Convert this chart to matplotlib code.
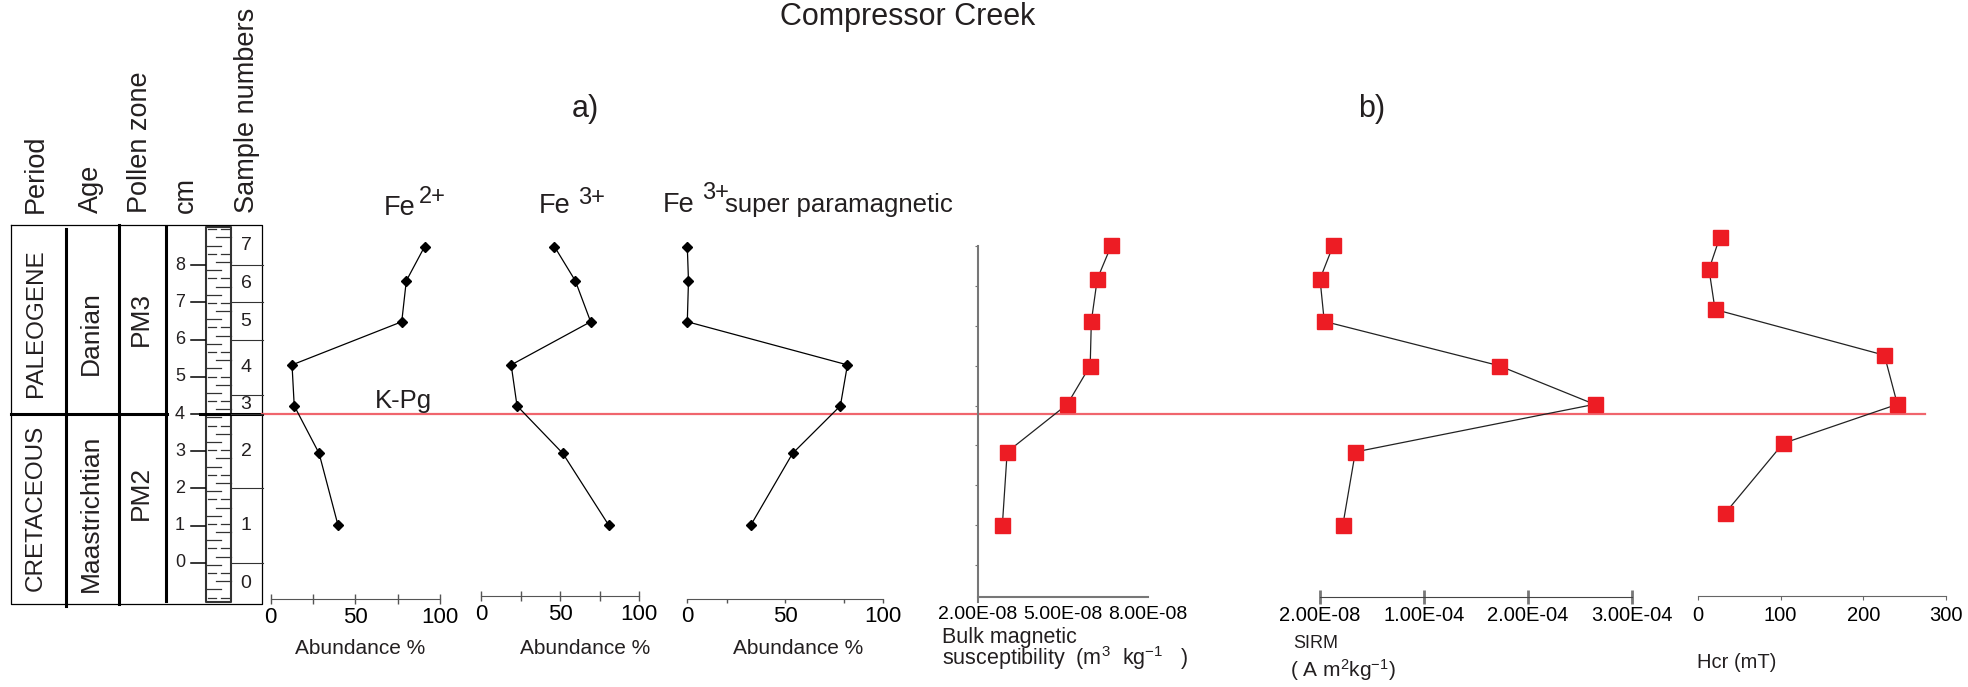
import numpy as np
import matplotlib
matplotlib.use('Agg')
import matplotlib.pyplot as plt

plt.rcParams['font.family'] = ['Liberation Sans', 'DejaVu Sans']
plt.rcParams['mathtext.default'] = 'regular'
plt.rcParams['text.color'] = '#231f20'

# sample depths (cm above base of section)
depth_fe = [8.50, 7.58, 6.48, 5.32, 4.22, 2.94, 1.02]
depth_mag = [8.54, 7.63, 6.49, 5.30, 4.26, 2.98, 1.02]
depth_hcr = [8.77, 7.89, 6.81, 5.58, 4.26, 3.21, 1.33]

# a) Mossbauer abundances (%)
fe2 = [90.9, 80.1, 77.4, 12.6, 13.9, 28.6, 39.7]
fe3 = [46.5, 59.7, 69.4, 19.1, 22.8, 51.8, 80.7]
fe3_sp = [0.0, 0.6, 0.0, 81.7, 78.1, 53.7, 32.5]

# b) rock magnetism
bulk_sus = [6.71e-8, 6.21e-8, 6.00e-8, 5.96e-8, 5.15e-8, 3.03e-8, 2.86e-8]
sirm = [1.28e-5, 0.0, 4.1e-6, 1.72e-4, 2.64e-4, 3.4e-5, 2.2e-5]
hcr = [26.7, 13.3, 20.6, 225.5, 241.2, 103.0, 32.7]

# stratigraphic column
cm_ticks = [0, 1, 2, 3, 4, 5, 6, 7, 8]
sample_edges = [8, 7, 6, 4.5, 4, 2, 0]
sample_names = ['7', '6', '5', '4', '3', '2', '1', '0']
headers = ['Period', 'Age', 'Pollen zone', 'cm', 'Sample numbers']

W, H = 1968, 687


def cm_of(ypx):
    # pixel row -> depth in cm (K-Pg = 4 cm)
    return 4 + (414 - ypx) / 37.2


fig = plt.figure(figsize=(W / 100, H / 100), dpi=100)

bg = fig.add_axes([0, 0, 1, 1])
bg.set_xlim(0, W)
bg.set_ylim(cm_of(H), cm_of(0))
bg.axis('off')

# ---- strat column ----
top, bot = cm_of(225), cm_of(604)
bg.plot([11, 262, 262, 11, 11], [top, top, bot, bot, top], color='k', lw=0.9)
bg.plot([66, 66], [cm_of(229), cm_of(606)], color='k', lw=2.2)
bg.plot([119, 119], [top, bot], color='k', lw=2.2)
bg.plot([166, 166], [cm_of(227), cm_of(601)], color='k', lw=2.2)
bg.plot([11, 167], [4, 4], color='k', lw=2.2)
bg.plot([200, 262], [4, 4], color='k', lw=2.2)
bg.plot([262, 1925], [4, 4], color='#f0656d', lw=1.6)

for c in cm_ticks:
    bg.plot([191, 205], [c, c], color='k', lw=1.1)
    bg.text(180, c, str(c), ha='center', va='center', fontsize=13)

# lithology strip (shale dashes)
lt, lb = cm_of(227), cm_of(602)
bg.fill_between([206, 231], lb, lt, facecolor='white', edgecolor='#333333', lw=1.5)
rows = np.arange(lb + 0.12, lt - 0.05, 0.22)
for i, r in enumerate(rows):
    if i % 3 == 0:
        bg.plot([208, 216], [r, r], color='#333333', lw=0.9)
        bg.plot([221, 229], [r, r], color='#333333', lw=0.9)
    elif i % 3 == 1:
        bg.plot([206, 221], [r, r], color='#333333', lw=0.9)
    else:
        bg.plot([216, 231], [r, r], color='#333333', lw=0.9)

# sample numbers
for e in sample_edges:
    bg.plot([231, 263], [e, e], color='#333333', lw=0.8)
bounds = [top] + sample_edges + [bot]
for name, a, b in zip(sample_names, bounds[:-1], bounds[1:]):
    bg.text(246, (a + b) / 2, name, ha='center', va='center', fontsize=14)

bg.text(36, 6.45, 'PALEOGENE', rotation=90, ha='center', va='center', fontsize=17.5)
bg.text(36, 1.47, 'CRETACEOUS', rotation=90, ha='center', va='center', fontsize=17.5)
bg.text(91, 6.18, 'Danian', rotation=90, ha='center', va='center', fontsize=19)
bg.text(91, 1.34, 'Maastrichtian', rotation=90, ha='center', va='center', fontsize=19)
bg.text(141, 6.55, 'PM3', rotation=90, ha='center', va='center', fontsize=19)
bg.text(141, 1.88, 'PM2', rotation=90, ha='center', va='center', fontsize=19)

for name, x in zip(headers, [36, 91, 140, 186, 247]):
    bg.text(x, cm_of(213), name, rotation=90, ha='center', va='bottom', fontsize=19.5)

# ---- titles ----
bg.text(908, cm_of(25), 'Compressor Creek', ha='center', va='baseline', fontsize=22)
bg.text(585, cm_of(117), 'a)', ha='center', va='baseline', fontsize=22)
bg.text(1372, cm_of(117), 'b)', ha='center', va='baseline', fontsize=22)
bg.text(375, cm_of(408), 'K-Pg', va='baseline', fontsize=18.5)

bg.text(384, cm_of(215), 'Fe', va='baseline', fontsize=19.5)
bg.text(419, cm_of(203), '2+', va='baseline', fontsize=17)
bg.text(539, cm_of(213), 'Fe', va='baseline', fontsize=19.5)
bg.text(578, cm_of(204), '3+', va='baseline', fontsize=17)
bg.text(663, cm_of(212), 'Fe', va='baseline', fontsize=19.5)
bg.text(702, cm_of(199), '3+', va='baseline', fontsize=17)
bg.text(725, cm_of(212), 'super paramagnetic', va='baseline', fontsize=18.5)


def panel(x0, x1, lim, spine_y=597):
    ax = fig.add_axes([x0 / W, 1 - 597 / H, (x1 - x0) / W, (597 - 225) / H])
    ax.set_xlim(lim)
    ax.set_ylim(cm_of(597), cm_of(225))
    ax.patch.set_visible(False)
    for s in ['top', 'right', 'left']:
        ax.spines[s].set_visible(False)
    ax.spines['bottom'].set_position(('data', cm_of(spine_y)))
    ax.set_yticks([])
    return ax


def fe_panel(x0, x1, vals, ticks, labels, spine_y, direction, length):
    ax = panel(x0, x1, (0, 100), spine_y)
    ax.plot(vals, depth_fe, color='k', lw=0.9, marker='D', ms=5.5, clip_on=False)
    ax.set_xticks(ticks, labels)
    ax.spines['bottom'].set_color('#555555')
    ax.tick_params(axis='x', direction=direction, length=length, width=1,
                   color='#555555', pad=2, labelsize=16)
    return ax


fe_panel(270.7, 440, fe2, [0, 25, 50, 75, 100], ['0', '', '50', '', '100'], 599, 'inout', 7)
fe_panel(481, 639, fe3, [0, 25, 50, 75, 100], ['0', '', '50', '', '100'], 596, 'inout', 7)
fe_panel(687.3, 883.3, fe3_sp, [0, 20, 50, 80, 100], ['0', '', '50', '', '100'], 599, 'out', 3)
for x in [360, 585, 798]:
    bg.text(x, cm_of(649), 'Abundance %', ha='center', va='center', fontsize=15)

sq = dict(color='#222222', lw=0.9, marker='s', ms=10.8, mfc='#ed1c24',
          mec='#ed1c24', clip_on=False)

# bulk susceptibility
ax = panel(978, 1148, (2e-8, 8e-8))
ax.plot(bulk_sus, depth_mag, **sq)
ax.spines['left'].set_visible(True)
ax.spines['left'].set_bounds(cm_of(602), cm_of(246))
ax.spines['left'].set_color('#777777')
ax.spines['left'].set_linewidth(1.5)
ax.spines['bottom'].set_color('#777777')
ax.spines['bottom'].set_linewidth(1.5)
ax.set_yticks([cm_of(y) for y in np.linspace(246, 565, 9)])
ax.tick_params(axis='y', direction='out', length=2.5, color='#777777', labelleft=False)
ax.set_xticks([2e-8, 5e-8, 8e-8], ['2.00E-08', '5.00E-08', '8.00E-08'])
ax.tick_params(axis='x', length=0, pad=6.5, labelsize=14)
bg.text(942, cm_of(637), 'Bulk magnetic', va='center', fontsize=15.5)
bg.text(942, cm_of(658), 'susceptibility  (m$^3$  kg$^{-1}$   )', va='center', fontsize=15.5)

# SIRM
ax = panel(1320, 1632, (0, 3e-4))
ax.plot(sirm, depth_mag, **sq)
ax.spines['bottom'].set_color('#444444')
ax.set_xticks([0, 1e-4, 2e-4, 3e-4], ['2.00E-08', '1.00E-04', '2.00E-04', '3.00E-04'])
ax.tick_params(axis='x', direction='inout', length=10, width=2, color='#777777',
               pad=1.5, labelsize=14.5)
bg.text(1293, cm_of(643), 'SIRM', va='center', fontsize=13)
bg.text(1290, cm_of(670), '( A m$^2$kg$^{-1}$)', va='center', fontsize=15)

# Hcr
ax = panel(1698, 1946, (0, 300), 596)
ax.plot(hcr, depth_hcr, **sq)
ax.spines['bottom'].set_color('#666666')
ax.set_xticks([0, 100, 200, 300])
ax.tick_params(axis='x', direction='out', length=3, color='#666666', pad=4.3, labelsize=14.5)
bg.text(1697, cm_of(662), 'Hcr (mT)', va='center', fontsize=14.5)

fig.savefig('out.png', dpi=100)
